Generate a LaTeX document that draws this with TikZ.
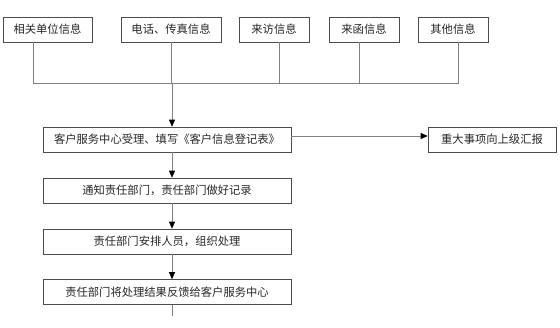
\documentclass[tikz,border=0pt]{standalone}
\usepackage{fontspec}
\newfontfamily\cjk{Noto Sans CJK SC}
\usetikzlibrary{arrows.meta}

\begin{document}
\begin{tikzpicture}[
      x=1pt, y=-1pt,
      box/.style={draw=black!70, line width=0.6pt, inner sep=0pt,
        minimum height=25pt, font=\cjk\fontsize{11.3}{13}\selectfont, text=black!85},
      src/.style={box, minimum width=70pt},
      main/.style={box, minimum width=248pt},
      line/.style={draw=black!50, line width=0.6pt},
      arr/.style={line, -{Triangle[width=6pt,length=7pt,fill=black,color=black]}}
    ]
    \useasboundingbox (0,0) rectangle (560,327);
    % sources
    \node (b1) [src, minimum width=89pt] at (47.5,29.5) {相关单位信息};
    \node (b2) [src, minimum width=100pt] at (171,29.5) {电话、传真信息};
    \node (b3) [src] at (274,29.5) {来访信息};
    \node (b4) [src] at (364,29.5) {来函信息};
    \node (b5) [src] at (453,29.5) {其他信息};
    \coordinate (join) at (172,83);
    \draw[line] ([xshift=-14.5pt]b1.south) |- ([xshift=5pt]b5.south |- join) -- ([xshift=5pt]b5.south);
    \draw[line] (b2.south) -- (b2.south |- join);
    \draw[line] ([xshift=5pt]b3.south) -- ([xshift=5pt]b3.south |- join);
    \draw[line] ([xshift=-5pt]b4.south) -- ([xshift=-5pt]b4.south |- join);
    % main steps
    \node (m1) [main] at (167,139.5) {客户服务中心受理、填写《客户信息登记表》};
    \node (m2) [main] at (167,190.5) {通知责任部门，责任部门做好记录};
    \node (m3) [main] at (167,241.5) {责任部门安排人员，组织处理};
    \node (m4) [main] at (167,292) {责任部门将处理结果反馈给客户服务中心};
    \node (r) [box, minimum width=128pt] at (492,139.5) {重大事项向上级汇报};
    \coordinate (tail) at (172,316);
    \draw[arr] (join) -- (m1.north -| join);
    \draw[arr] (m1.south -| join) -- (m2.north -| join);
    \draw[arr] (m2.south -| join) -- (m3.north -| join);
    \draw[arr] (m3.south -| join) -- (m4.north -| join);
    \draw[line] (m4.south -| join) -- (tail);
    \draw[arr] ([yshift=3.5pt]m1.east) -- ([yshift=3.5pt]m1.east -| r.west);
\end{tikzpicture}
\end{document}
